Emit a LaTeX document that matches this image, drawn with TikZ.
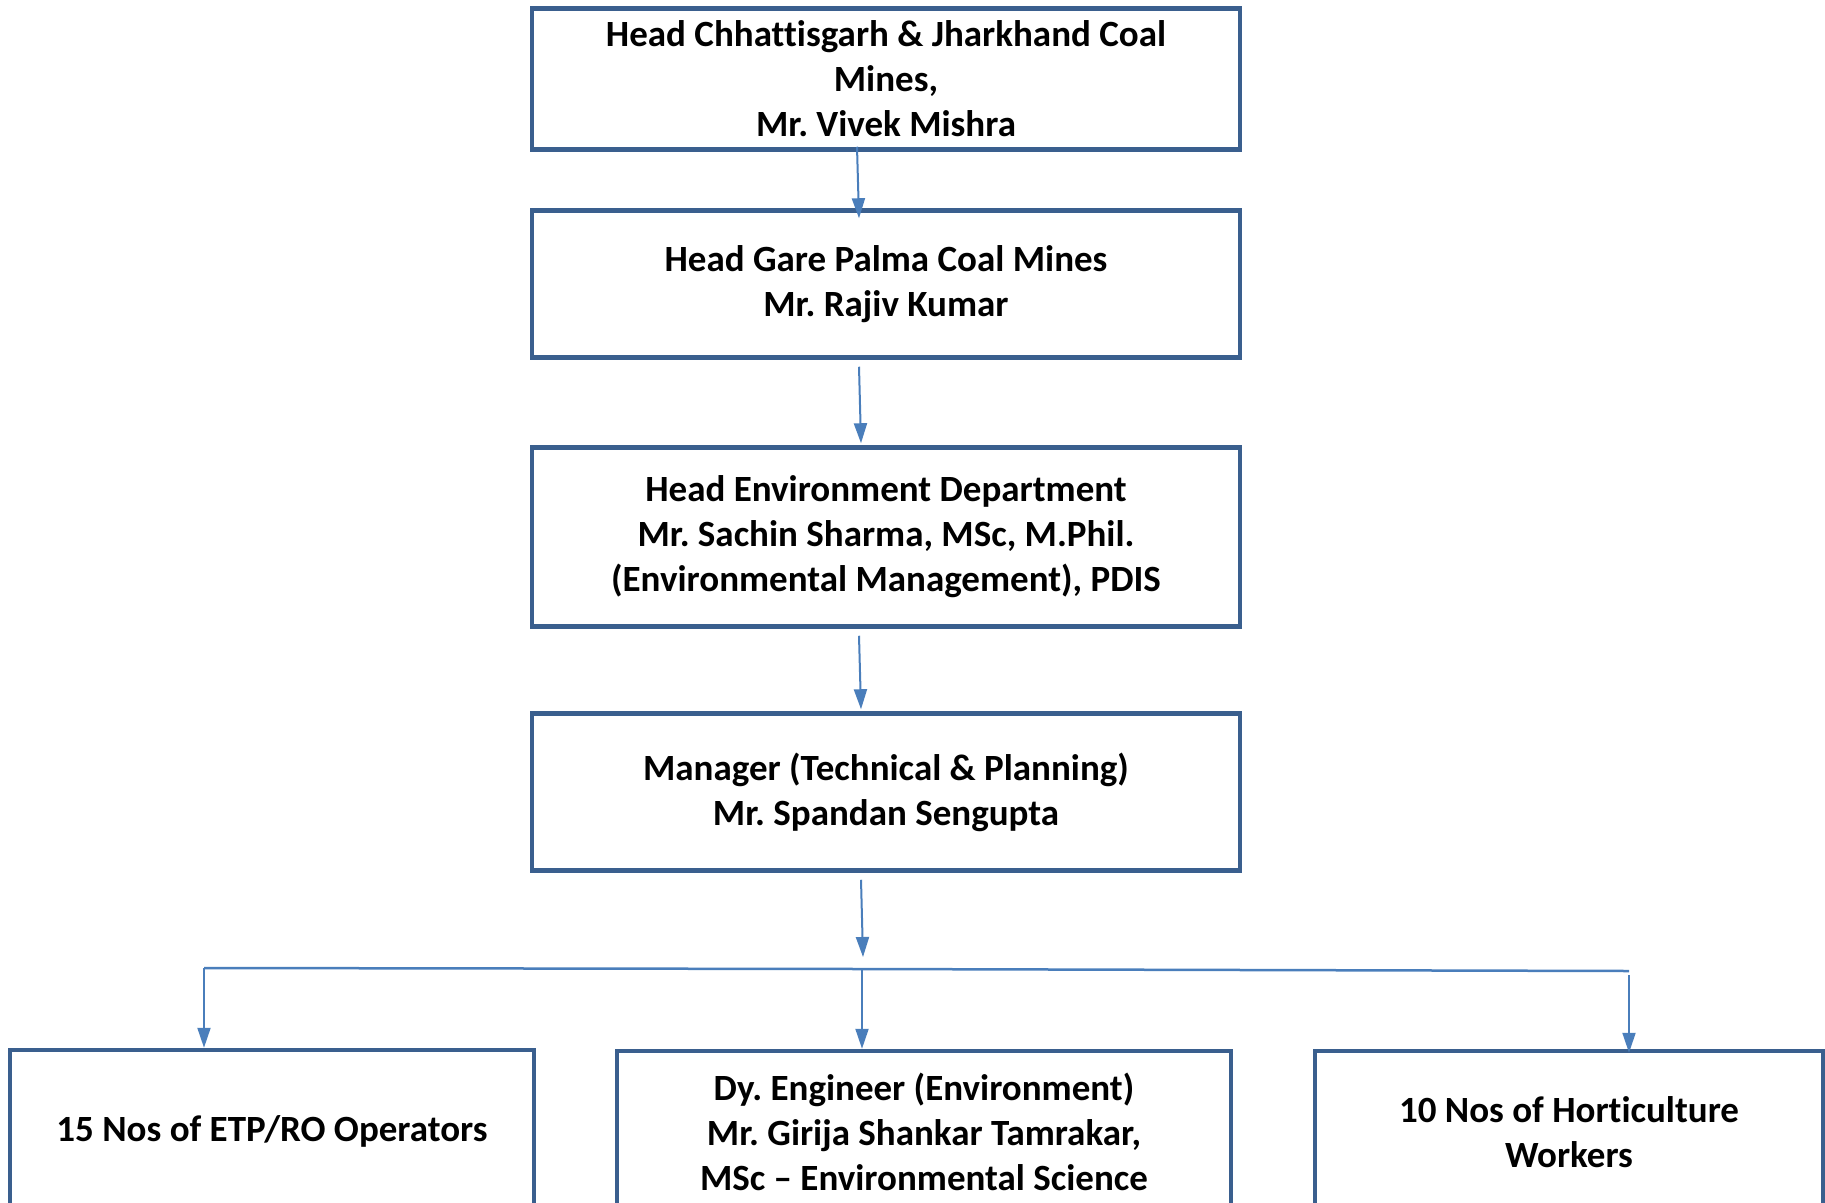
\documentclass[tikz,border=0pt]{standalone}
\usepackage{fontspec}
\setmainfont{Carlito}[Ligatures=CommonOff]
\frenchspacing
\usetikzlibrary{arrows.meta,calc}
\definecolor{boxline}{HTML}{3A5F8E}
\definecolor{arrline}{HTML}{4A7EBB}
\tikzset{
  orgbox/.style={draw=boxline, line width=4.5pt, rectangle, align=center,
    font=\fontsize{37}{45}\selectfont\bfseries, inner sep=0pt},
  arr/.style={draw=arrline, line width=2pt, -{Triangle[length=20pt,width=13pt]}},
  bus/.style={draw=arrline, line width=2.5pt}
}
\begin{document}
\begin{tikzpicture}[x=1pt,y=-1pt]
\useasboundingbox (0,0) rectangle (1825,1202);
\clip (0,0) rectangle (1825,1202);
\node[orgbox, minimum width=708pt, minimum height=141pt] (h1) at (886,79)
  {Head Chhattisgarh \& Jharkhand Coal\\Mines,\\Mr. Vivek Mishra};
\node[orgbox, minimum width=708pt, minimum height=147pt] (h2) at (886,284)
  {Head Gare Palma Coal Mines\\Mr. Rajiv Kumar};
\node[orgbox, minimum width=708pt, minimum height=179pt] (h3) at (886,537)
  {Head Environment Department\\Mr. Sachin Sharma, MSc, M.Phil.\\(Environmental Management), PDIS};
\node[orgbox, minimum width=708pt, minimum height=157pt] (h4) at (886,792)
  {Manager (Technical \& Planning)\\Mr. Spandan Sengupta};
\node[orgbox, minimum width=524pt, minimum height=162pt] (b1) at (272,1131)
  {15 Nos of ETP/RO Operators};
\node[orgbox, minimum width=614pt, minimum height=162pt] (b2) at (924,1132)
  {Dy. Engineer (Environment)\\Mr. Girija Shankar Tamrakar,\\MSc -- Environmental Science};
\node[orgbox, minimum width=508pt, minimum height=162pt] (b3) at (1569,1132)
  {10 Nos of Horticulture\\Workers};
\coordinate (busin) at (863,957);
\coordinate (busL) at (204,968);
\coordinate (busM) at (862,969);
\coordinate (busR) at (1629,971);
\draw[arr] ($(h1.south)+(-29,-5)$) -- ($(h2.north)+(-27,10)$);
\draw[arr] ($(h2.south)+(-27,7)$) -- ($(h3.north)+(-25,-2)$);
\draw[arr] ($(h3.south)+(-27,7)$) -- ($(h4.north)+(-25,-2)$);
\draw[arr] ($(h4.south)+(-25,7)$) -- (busin);
\draw[bus] (busL) -- (busM) -- (busR);
\draw[arr] (busL) -- (busL |- b1.north);
\draw[arr] (busM) -- (busM |- b2.north);
\draw[arr] ($(busR)+(0,4)$) -- ($(busR |- b3.north)+(0,4)$);
\end{tikzpicture}
\end{document}
